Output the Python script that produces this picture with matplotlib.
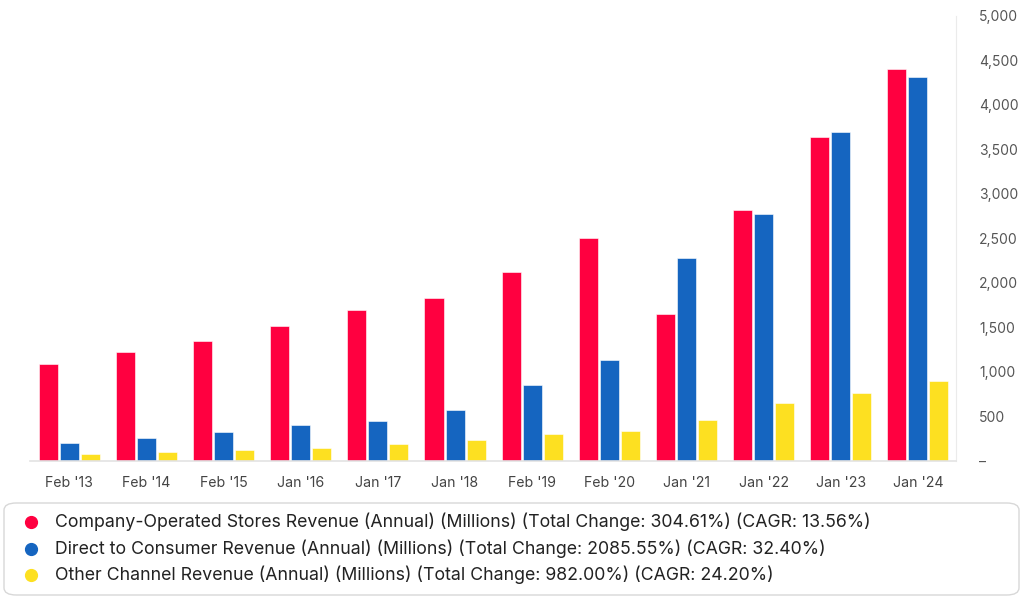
import matplotlib
matplotlib.use("Agg")
import matplotlib.pyplot as plt
import numpy as np
from matplotlib.patches import FancyBboxPatch
from matplotlib.lines import Line2D

categories = ["Feb '13", "Feb '14", "Feb '15", "Jan '16", "Jan '17", "Jan '18",
              "Feb '19", "Feb '20", "Jan '21", "Jan '22", "Jan '23", "Jan '24"]
company_stores = [1090, 1230, 1349, 1514, 1702, 1837, 2124, 2500, 1657, 2818, 3646, 4408]
direct_consumer = [197, 263, 323, 401, 454, 573, 859, 1140, 2286, 2776, 3698, 4309]
other_channel = [83, 101, 128, 143, 188, 233, 303, 341, 457, 656, 761, 896]
series_names = [
    "Company-Operated Stores Revenue (Annual) (Millions) (Total Change: 304.61%) (CAGR: 13.56%)",
    "Direct to Consumer Revenue (Annual) (Millions) (Total Change: 2085.55%) (CAGR: 32.40%)",
    "Other Channel Revenue (Annual) (Millions) (Total Change: 982.00%) (CAGR: 24.20%)",
]
y_ticks = [0, 500, 1000, 1500, 2000, 2500, 3000, 3500, 4000, 4500, 5000]
y_tick_labels = ["–", "500", "1,000", "1,500", "2,000", "2,500", "3,000", "3,500", "4,000", "4,500", "5,000"]

colors = ["#FF0040", "#1565C0", "#FDE021"]
plt.rcParams['font.family'] = ['Inter', 'DejaVu Sans']

fig = plt.figure(figsize=(10.24, 5.97), dpi=100)
ax = fig.add_axes([30/1024, 1-461/597, (955.7-30)/1024, (461-16)/597])

x = np.arange(len(categories))
w = 0.247
step = 0.273
for i, (vals, c) in enumerate(zip([company_stores, direct_consumer, other_channel], colors)):
    ax.bar(x + (i-1)*step, vals, width=w, color=c, edgecolor='white', linewidth=0.4, zorder=2)

ax.set_xlim(-0.51, 11.49)
ax.set_ylim(0, 5000)
ax.yaxis.tick_right()
ax.set_yticks(y_ticks)
ax.set_yticklabels(y_tick_labels)
ax.set_xticks(x)
ax.set_xticklabels(categories)
ax.tick_params(axis='y', length=0, pad=17, labelsize=10, labelcolor='#555555')
ax.tick_params(axis='x', length=0, pad=11, labelsize=10.2, labelcolor='#444444')
for lab in ax.get_yticklabels():
    lab.set_horizontalalignment('left')
for s in ['top', 'left']:
    ax.spines[s].set_visible(False)
ax.spines['right'].set_color('#EBEBEB')
ax.spines['bottom'].set_color('#E3E3E3')
ax.spines['bottom'].set_linewidth(1.2)

# legend box
box = FancyBboxPatch((4/1024, 1-595/597), (1019-4)/1024, (595-503)/597,
                     boxstyle="round,pad=0,rounding_size=0.012",
                     transform=fig.transFigure, facecolor='white',
                     edgecolor='#D8D8D8', linewidth=1.0)
fig.patches.append(box)
ys = [522, 548.5, 575]
for name, c, yy in zip(series_names, colors, ys):
    yf = 1 - yy/597
    fig.lines.append(Line2D([31/1024], [yf], marker='o', markersize=8.5, color=c,
                            linestyle='none', transform=fig.transFigure))
    fig.text(55/1024, yf, name, fontsize=12.75, color='#222222', va='center', ha='left')

fig.savefig("out.png", dpi=100)
